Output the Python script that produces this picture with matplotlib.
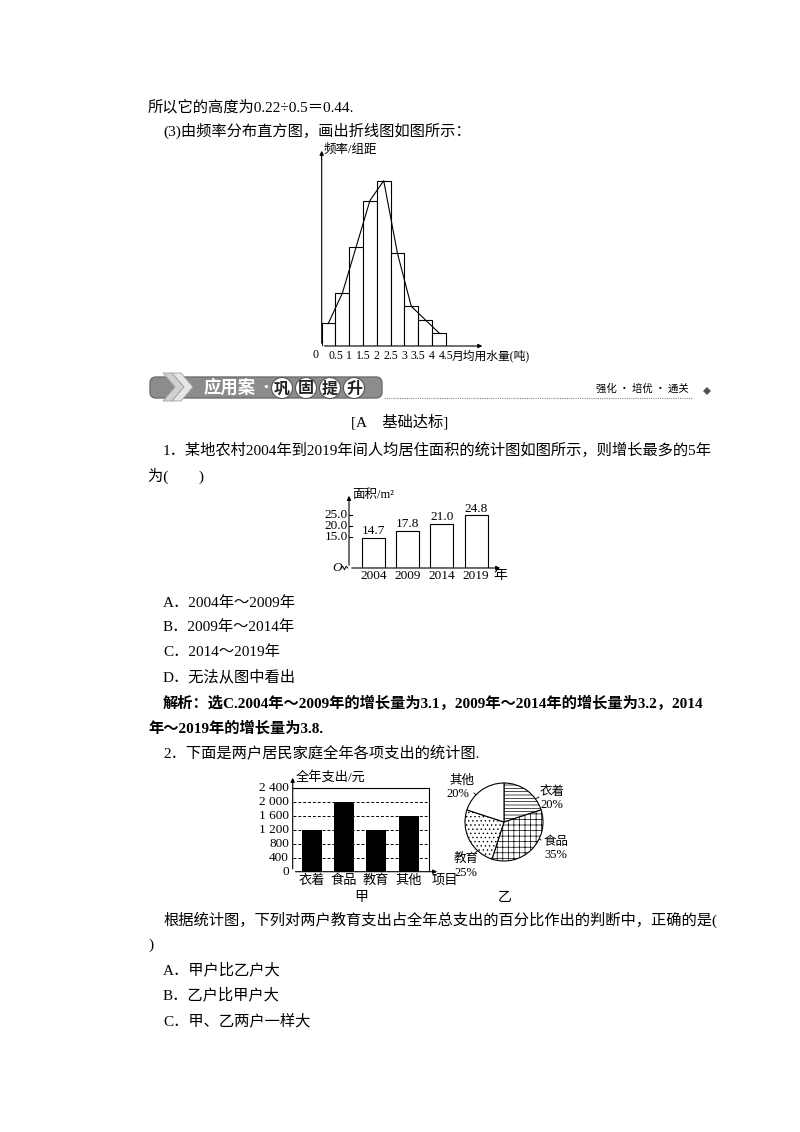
import matplotlib
matplotlib.use("Agg")
import matplotlib.pyplot as plt
from matplotlib.patches import Rectangle, Circle, Polygon, FancyBboxPatch
import numpy as np

FAM = ['Liberation Serif', 'Noto Sans CJK SC', 'DejaVu Sans']
plt.rcParams['font.family'] = FAM
plt.rcParams['hatch.linewidth'] = 0.5

# ---------------- data ----------------
hist_edges = [0, 0.5, 1, 1.5, 2, 2.5, 3, 3.5, 4, 4.5]
hist_heights = [0.07, 0.16, 0.30, 0.44, 0.50, 0.28, 0.12, 0.08, 0.04]
hist_ticks = ['0.5', '1', '1.5', '2', '2.5', '3', '3.5', '4', '4.5']

area_years = ['2004', '2009', '2014', '2019']
area_values = [14.7, 17.8, 21.0, 24.8]
area_ticks = [15.0, 20.0, 25.0]

spend_items = ['衣着', '食品', '教育', '其他']
spend_values = [1200, 2000, 1200, 1600]
spend_ticks = [0, 400, 800, 1200, 1600, 2000, 2400]
spend_tick_labels = ['0', '400', '800', '1 200', '1 600', '2 000', '2 400']

pie_labels = ['衣着', '食品', '教育', '其他']
pie_pct = [20, 35, 25, 20]
pie_hatch = ['-----', '+++', '....', '']

W, H = 800, 1132
fig = plt.figure(figsize=(8, 11.32), dpi=100)
fig.patch.set_facecolor('white')

def T(x, y, s, size=11, ha='left', va='center', **kw):
    fig.text(x / W, 1 - y / H, s, fontsize=size, ha=ha, va=va, **kw)

def AX(l, t, r, b):
    return fig.add_axes([l / W, 1 - b / H, (r - l) / W, (b - t) / H])

# ---------------- page text ----------------
T(148, 107, '所以它的高度为0.22÷0.5＝0.44.')
T(163, 131, '(3)由频率分布直方图，画出折线图如图所示：')
T(400, 422, '[A　基础达标]', ha='center')
T(163, 450, '1．某地农村2004年到2019年间人均居住面积的统计图如图所示，则增长最多的5年')
T(148, 476, '为(　　)')
T(163, 603, 'A．2004年～2009年')
T(163, 627, 'B．2009年～2014年')
T(163, 652, 'C．2014～2019年')
T(163, 677, 'D．无法从图中看出')
T(163, 703, '解析：选C.2004年～2009年的增长量为3.1，2009年～2014年的增长量为3.2，2014', weight='bold')
T(148, 728, '年～2019年的增长量为3.8.', weight='bold')
T(163, 753, '2．下面是两户居民家庭全年各项支出的统计图.')
T(361, 897, '甲', ha='center', size=10)
T(505, 897, '乙', ha='center', size=10)
T(163, 920, '根据统计图，下列对两户教育支出占全年总支出的百分比作出的判断中，正确的是(')
T(148, 945, ')')
T(163, 970, 'A．甲户比乙户大')
T(163, 995, 'B．乙户比甲户大')
T(163, 1021, 'C．甲、乙两户一样大')

# ---------------- banner ----------------
bx = fig.add_axes([0, 0, 1, 1]); bx.set_xlim(0, W); bx.set_ylim(H, 0); bx.axis('off')
bx.add_patch(FancyBboxPatch((150, 377), 232, 21, boxstyle='round,pad=0,rounding_size=6',
                            fc='#8c8c8c', ec='#6e6e6e', lw=1))
for dx, c in [(0, '#d0d0d0'), (9, '#e6e6e6')]:
    bx.add_patch(Polygon([(163 + dx, 373), (172 + dx, 373), (184 + dx, 387), (172 + dx, 401),
                          (163 + dx, 401), (175 + dx, 387)], closed=True, fc=c, ec='#a0a0a0', lw=0.6))
bx.text(204, 388, '应用案', color='white', fontsize=12.5, weight='bold', va='center',
        family=['Noto Sans CJK SC'])
bx.text(257, 388, '·', color='white', fontsize=12, va='center', family=['Noto Sans CJK SC'])
for i, ch in enumerate('巩固提升'):
    cx = 282 + i * 24
    bx.add_patch(Circle((cx, 388), 10.5, fc='white', ec='#555555', lw=0.8))
    bx.text(cx, 388.5, ch, fontsize=11.5, weight='bold', ha='center', va='center',
            color='#222222', family=['Noto Sans CJK SC'])
bx.plot([384, 692], [397.5, 397.5], ls=(0, (1, 1)), color='#888888', lw=0.8)
bx.text(596, 389, '强化 · 培优 · 通关', fontsize=7.5, va='center', family=['Noto Sans CJK SC'])
bx.add_patch(Polygon([(703, 391), (707, 387), (711, 391), (707, 395)], fc='#555555'))

arrow = dict(arrowstyle='-|>', lw=0.8, color='black', mutation_scale=6)

# ---------------- histogram ----------------
ax1 = AX(321.7, 148, 485, 346)
ax1.set_xlim(0, 163.3 / 27.56)
ax1.set_ylim(0, 198 / 165.3 * 0.5)
ax1.axis('off')
ax1.bar(hist_edges[:-1], hist_heights, width=0.5, align='edge', fc='white', ec='black', lw=0.8)
mids = [e + 0.25 for e in hist_edges[:-1]]
ax1.plot(mids, hist_heights, color='black', lw=0.8)
ax1.annotate('', xy=(0, 0.599), xytext=(0, 0), arrowprops=arrow, annotation_clip=False)
ax1.annotate('', xy=(5.93, 0), xytext=(0, 0), arrowprops=arrow, annotation_clip=False)
for e, lab in zip(hist_edges[1:], hist_ticks):
    ax1.text(e, -0.012, lab, ha='center', va='top', fontsize=8.5)
ax1.text(4.5 + 0.22, -0.012, '月均用水量(吨)', ha='left', va='top', fontsize=8.5)
ax1.text(-0.1, -0.008, '0', ha='right', va='top', fontsize=8.5)
ax1.text(0.08, 0.593, '频率/组距', ha='left', va='center', fontsize=9)

# ---------------- area bar chart ----------------
ax2 = AX(349, 493, 503, 568)
off = 14.09 - 15
ax2.set_xlim(-0.716, 3.787)
ax2.set_ylim(0, 34.1)
ax2.axis('off')
xs = np.arange(len(area_years))
tv = [v + off for v in area_values]
ax2.bar(xs, tv, width=0.67, fc='white', ec='black', lw=0.8)
for x, v, t in zip(xs, area_values, tv):
    ax2.text(x, t + 0.3, f'{v:.1f}', ha='center', va='bottom', fontsize=9.5)
    ax2.text(x, -0.8, area_years[x], ha='center', va='top', fontsize=9.5)
for tk in area_ticks:
    ax2.plot([-0.716, -0.62], [tk + off] * 2, color='black', lw=0.8)
    ax2.text(-0.75, tk + off, f'{tk:.1f}', ha='right', va='center', fontsize=9.5)
ax2.annotate('', xy=(-0.716, 34.1), xytext=(-0.716, 0), arrowprops=arrow, annotation_clip=False)
ax2.annotate('', xy=(3.787, 0), xytext=(-0.716, 0), arrowprops=arrow, annotation_clip=False)
ax2.text(3.5, -0.3, '年', ha='left', va='top', fontsize=10)
ax2.text(-0.62, 33.3, '面积/m²', ha='left', va='center', fontsize=9)
ax2.text(-1.05, 0, 'O', ha='center', va='center', fontsize=9.5, style='italic')
zz = np.array([-0.95, -0.9, -0.85, -0.8, -0.75])
ax2.plot(zz, [0, 0.8, -0.8, 0.8, 0], color='black', lw=0.7, clip_on=False)

# ---------------- spending bar chart ----------------
ax3 = AX(292.7, 775, 440, 871.7)
ax3.set_xlim(-0.588, 3.97)
ax3.set_ylim(0, 2773)
ax3.axis('off')
xs = np.arange(len(spend_items))
for tk in spend_ticks[1:-1]:
    ax3.plot([-0.588, 3.63], [tk, tk], ls=(0, (3, 2)), color='black', lw=0.7)
ax3.plot([-0.588, 3.63, 3.63], [2400, 2400, 0], color='black', lw=0.8)
ax3.bar(xs, spend_values, width=0.62, color='black')
for tk, lab in zip(spend_ticks, spend_tick_labels):
    ax3.text(-0.7, tk, lab, ha='right', va='center', fontsize=9.5)
for x, lab in zip(xs, spend_items):
    ax3.text(x, -90, lab, ha='center', va='top', fontsize=9.5)
ax3.text(3.72, -90, '项目', ha='left', va='top', fontsize=9.5)
ax3.annotate('', xy=(3.97, 0), xytext=(-0.588, 0), arrowprops=arrow, annotation_clip=False)
ax3.annotate('', xy=(-0.588, 2773), xytext=(-0.588, 0), arrowprops=arrow, annotation_clip=False)
ax3.text(-0.5, 2700, '全年支出/元', ha='left', va='center', fontsize=9.5)

# ---------------- pie ----------------
ax4 = AX(465, 783, 543, 861)
wedges, _ = ax4.pie(pie_pct, startangle=90, counterclock=False,
                    wedgeprops=dict(fc='white', ec='black', lw=0.8))
for w, h in zip(wedges, pie_hatch):
    w.set_hatch(h)
ax4.set_xlim(-1, 1); ax4.set_ylim(-1, 1); ax4.set_aspect('auto')
T(462, 781, '其他', size=9, ha='center')
T(458, 794, '20%', size=9, ha='center')
T(552, 792, '衣着', size=9, ha='center')
T(552, 805, '20%', size=9, ha='center')
T(556, 842, '食品', size=9, ha='center')
T(556, 855, '35%', size=9, ha='center')
T(466, 859, '教育', size=9, ha='center')
T(466, 873, '25%', size=9, ha='center')
bx.plot([474, 484], [793, 803], color='black', lw=0.6)
bx.plot([539, 528], [797, 803], color='black', lw=0.6)
bx.plot([541, 527], [840, 832], color='black', lw=0.6)
bx.plot([475, 484], [853, 845], color='black', lw=0.6)

fig.savefig('out.png', dpi=100, facecolor='white')
